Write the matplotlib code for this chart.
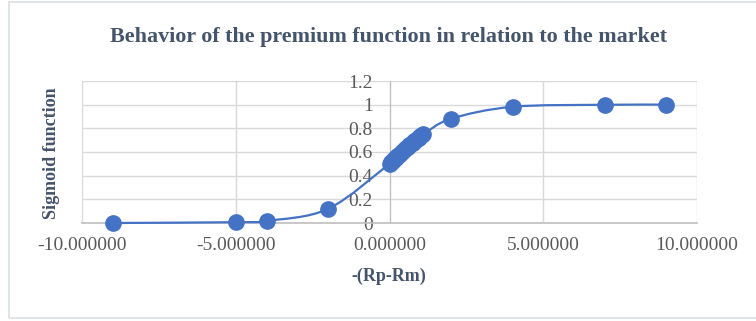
import matplotlib.pyplot as plt
from matplotlib.path import Path
from matplotlib.patches import PathPatch, Rectangle
import numpy as np

# -(Rp-Rm) values and their sigmoid
x_vals = [-9.0, -5.0, -4.0, -2.0,
          0.0, 0.05, 0.1, 0.15, 0.2, 0.25, 0.3, 0.35, 0.4, 0.45, 0.5,
          0.55, 0.6, 0.65, 0.7, 0.75, 0.8, 0.85, 0.9, 0.95, 1.0, 1.05, 1.1,
          2.0, 4.0, 7.0, 9.0]
y_vals = [0.0001, 0.0067, 0.018, 0.119,
          0.500, 0.512, 0.525, 0.537, 0.550, 0.562, 0.574, 0.587, 0.599, 0.611, 0.622,
          0.634, 0.646, 0.657, 0.668, 0.679, 0.690, 0.701, 0.711, 0.721, 0.731, 0.741, 0.750,
          0.881, 0.982, 0.999, 0.9999]

x_ticks = [-10, -5, 0, 5, 10]
y_ticks = [0, 0.2, 0.4, 0.6, 0.8, 1, 1.2]
y_tick_labels = ['0', '0.2', '0.4', '0.6', '0.8', '1', '1.2']

blue = '#4472C4'
text_grey = '#595959'
title_col = '#44546A'
grid_col = '#D9D9D9'


def smooth_path(xs, ys):
    # cubic bezier through every point (smoothed line like a spreadsheet chart)
    pts = np.column_stack([xs, ys])
    verts = [pts[0]]
    codes = [Path.MOVETO]
    n = len(pts)
    for i in range(n - 1):
        p0 = pts[i - 1] if i > 0 else pts[i]
        p1 = pts[i]
        p2 = pts[i + 1]
        p3 = pts[i + 2] if i + 2 < n else pts[i + 1]
        c1 = p1 + (p2 - p0) / 6.0
        c2 = p2 - (p3 - p1) / 6.0
        verts += [c1, c2, p2]
        codes += [Path.CURVE4] * 3
    return Path(verts, codes)


plt.rcParams['font.family'] = ['Liberation Serif', 'DejaVu Serif']

fig = plt.figure(figsize=(7.56, 3.21), dpi=100)
fig.patches.append(Rectangle((9 / 756, 1 - 318 / 321), 760 / 756, 316 / 321,
                             transform=fig.transFigure, fill=False,
                             edgecolor='#D9DEE6', linewidth=1.2))

ax = fig.add_axes([82 / 756, 1 - 223 / 321, 615 / 756, 142 / 321])
ax.set_xlim(-10, 10)
ax.set_ylim(0, 1.2)

ax.add_patch(PathPatch(smooth_path(x_vals, y_vals), fill=False,
                       edgecolor=blue, linewidth=1.6, zorder=3, clip_on=False))
ax.plot(x_vals, y_vals, linestyle='none', marker='o', markersize=11,
        color=blue, zorder=4, clip_on=False)

ax.set_xticks(x_ticks)
ax.set_xticklabels(['%.6f' % t for t in x_ticks])
ax.set_yticks(y_ticks)
ax.set_yticklabels(y_tick_labels)
ax.tick_params(length=0, labelsize=14, labelcolor=text_grey)
ax.tick_params(axis='x', pad=10)
ax.tick_params(axis='y', pad=12)
ax.grid(True, color=grid_col, linewidth=1)
ax.set_axisbelow(True)

for side in ['top', 'right']:
    ax.spines[side].set_visible(False)
ax.spines['left'].set_position(('data', 0))
ax.spines['left'].set_color('#BFBFBF')
ax.spines['bottom'].set_color('#BFBFBF')
ax.spines['bottom'].set_linewidth(1.2)

fig.text(388 / 756, 1 - 37 / 321,
         'Behavior of the premium function in relation to the market',
         ha='center', va='center', fontsize=15.8, fontweight='bold', color=title_col)
fig.text(389 / 756, 1 - 276 / 321, '-(Rp-Rm)', ha='center', va='center',
         fontsize=13, fontweight='bold', color=title_col)
fig.text(51 / 756, 1 - 153 / 321, 'Sigmoid function', ha='center', va='center',
         rotation=90, fontsize=13, fontweight='bold', color=title_col)

fig.savefig('out.png', dpi=100)
